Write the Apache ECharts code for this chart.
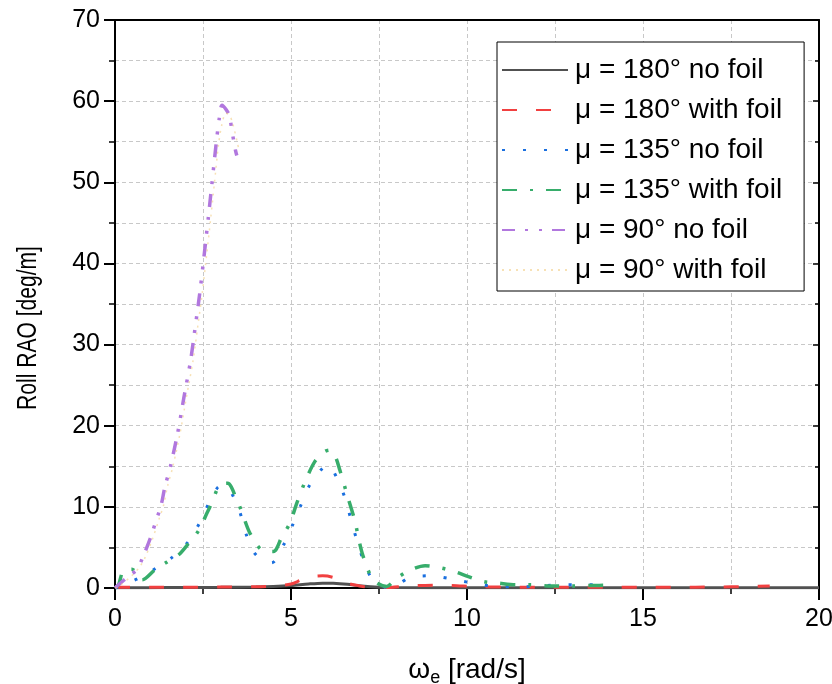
<!DOCTYPE html>
<html>
<head>
<meta charset="utf-8">
<script src="https://cdn.jsdelivr.net/npm/echarts@6/dist/echarts.min.js"></script>
<style>
html,body{margin:0;padding:0;background:#fff;}
#chart{width:832px;height:684px;}
</style>
</head>
<body>
<div id="chart"></div>
<script>
// ---- data ----
const seriesNames = ['μ = 180° no foil','μ = 180° with foil','μ = 135° no foil','μ = 135° with foil','μ = 90° no foil','μ = 90° with foil'];
const yTitle = 'Roll RAO [deg/m]';

const x180no = [0,1,2,3,4,4.5,5,5.5,5.9,6.2,6.6,7,7.5,8,10,12,14,16,18,20];
const y180no = [0.02,0.04,0.06,0.08,0.12,0.18,0.3,0.5,0.6,0.58,0.45,0.25,0.1,0.05,0.03,0.03,0.02,0.02,0.02,0.02];

const x180foil = [0,1,2,3,4,4.5,5,5.3,5.6,5.9,6.2,6.5,6.9,7.3,7.7,8.3,9.3,10.3,11,12,13,14,15,16,17,18,18.6];
const y180foil = [0.1,0.1,0.1,0.12,0.15,0.25,0.5,1.0,1.4,1.5,1.3,0.7,0.3,0.05,0.05,0.25,0.35,0.16,0.12,0.1,0.1,0.1,0.1,0.1,0.12,0.18,0.25];

const x135no = [0,0.3,0.67,1.15,1.63,2.08,2.4,2.66,2.92,3.1,3.31,3.55,3.72,3.95,4.2,4.45,4.8,5.05,5.28,5.52,5.84,6.05,6.32,6.54,6.7,6.87,7.05,7.29,7.55,7.81,8.1,8.38,8.95,9.57,10.16,10.75,11.4,11.98,12.6,13.16,13.78,14.0];
const y135no = [0,0.5,1.2,2.4,3.8,5.7,8.0,10.4,12.4,12.6,11.7,9.3,6.7,4.4,3.4,3.1,5.4,7.8,10.2,12.6,14.5,15.2,13.4,11.0,8.5,5.9,3.5,1.2,0.3,0.05,0.6,1.3,1.5,1.1,0.6,0.2,0.15,0.2,0.4,0.4,0.4,0.35];

const x135foil = [0,0.1,0.25,0.48,0.77,1.15,1.48,1.81,2.09,2.38,2.61,2.76,2.9,3.05,3.2,3.46,3.6,3.84,4.17,4.5,4.74,4.97,5.16,5.4,5.68,5.95,6.1,6.25,6.39,6.58,6.82,6.91,7.05,7.34,7.72,8.0,8.38,8.81,9.23,9.66,10.04,10.46,10.89,11.4,11.8,12.3,13.0,13.5,14.1];
const y135foil = [0,0.4,2.2,2.3,1.0,2.3,3.2,4.1,5.5,7.1,9.2,10.6,12.1,12.8,12.9,10.9,9.4,6.7,4.7,4.5,6.3,8.0,10.4,13.1,15.6,16.8,17.0,16.3,14.5,11.7,8.2,6.3,3.9,1.0,0.2,1.2,2.2,2.75,2.5,2.0,1.4,0.8,0.6,0.4,0.4,0.25,0.25,0.3,0.35];

const x90no = [0,0.1,0.4,0.63,0.8,1.0,1.19,1.31,1.42,1.57,1.78,1.95,2.15,2.28,2.41,2.54,2.65,2.75,2.87,2.96,3.04,3.15,3.25,3.32,3.42,3.46];
const y90no = [0,0.4,1.5,2.3,3.9,6.1,8.6,10.2,12.5,14.9,19.1,23.3,28.1,32.2,36.4,41.3,45.6,49.7,54.6,57.8,59.5,59.0,58.2,56.4,54.0,53.3];

const x90foil = [0,0.17,0.47,0.7,0.87,1.07,1.26,1.38,1.49,1.64,1.85,2.02,2.22,2.35,2.48,2.61,2.72,2.82,2.94,3.03,3.15,3.25,3.34,3.47,3.52];
const y90foil = [0,0.4,1.5,2.6,3.9,6.1,8.6,10.2,12.5,14.9,19.1,23.3,28.1,32.2,36.4,41.3,45.6,49.7,54.6,57.0,58.5,58.3,57.3,55.0,54.0];

const xTicks = [0,5,10,15,20];
const yTicks = [0,10,20,30,40,50,60,70];

// ---- chart ----
const pair = (xs, ys) => xs.map((x, i) => [x, ys[i]]);
const FONT = 'Liberation Sans, Arial, sans-serif';

const styles = [
  {color:'#515151', width:3, type:'solid'},
  {color:'#F14040', width:3, type:[15,19]},
  {color:'#1A6FDF', width:3, type:[3,18]},
  {color:'#37AD6B', width:3.5, type:[15,13,3,13]},
  {color:'#B177DE', width:3.5, type:[13,10,3,11,3,10]},
  {color:'rgba(240,200,120,0.55)', width:1.5, type:[2,5]}
];
const datas = [
  pair(x180no,y180no), pair(x180foil,y180foil), pair(x135no,y135no),
  pair(x135foil,y135foil), pair(x90no,y90no), pair(x90foil,y90foil)
];

const chart = echarts.init(document.getElementById('chart'), null, {renderer:'canvas'});
const gridLine = {show:true, lineStyle:{color:'#c8c8c8', width:1, type:[4,3]}};

const series = seriesNames.map((name, i) => ({
  name: name,
  type: 'line',
  data: datas[i],
  showSymbol: false,
  symbol: 'none',
  smooth: 0.3,
  z: 3 + i,
  lineStyle: {color: styles[i].color, width: styles[i].width, type: styles[i].type},
  itemStyle: {color: styles[i].color},
  xAxisIndex: 0, yAxisIndex: 0,
  animation: false
}));

chart.setOption({
  animation: false,
  backgroundColor: '#fff',
  grid: {left:115, right:13, top:20, bottom:96, containLabel:false, outerBoundsMode:'none'},
  graphic: [{
    type: 'text',
    x: 29, y: 328,
    rotation: Math.PI / 2,
    scaleX: 0.78,
    style: {text: yTitle, fontFamily: FONT, fontSize: 27, fill: '#000', align: 'center', verticalAlign: 'middle'}
  }],
  legend: {
    orient: 'vertical',
    left: 497, top: 42,
    data: seriesNames,
    itemWidth: 66, itemHeight: 14,
    itemGap: 10,
    itemStyle: {opacity: 0},
    padding: [13, 22, 6, 4],
    borderColor: '#000', borderWidth: 1,
    backgroundColor: '#fff',
    textStyle: {fontFamily: FONT, fontSize: 28, color:'#000', lineHeight: 30, padding:[0,0,0,2]}
  },
  xAxis: [{
    type:'value', min:0, max:20, interval:5,
    name:'{a|ω}{s|e}{a| [rad/s]}',
    nameLocation:'middle', nameGap:65,
    nameTextStyle:{rich:{a:{fontFamily:FONT, fontSize:28, color:'#000'}, s:{fontFamily:FONT, fontSize:18, color:'#000', verticalAlign:'bottom', padding:[16,0,0,0]}}},
    axisLine:{show:true, onZero:false, lineStyle:{color:'#000', width:2}},
    axisTick:{show:true, length:12, lineStyle:{color:'#000', width:2}},
    minorTick:{show:true, splitNumber:2, length:6, lineStyle:{color:'#000', width:1.5}},
    splitLine: gridLine,
    minorSplitLine: gridLine,
    axisLabel:{fontFamily:FONT, fontSize:25, color:'#000', margin:19,
      customValues: xTicks}
  },{
    type:'value', min:0, max:20, interval:5, position:'top',
    axisLine:{show:true, onZero:false, lineStyle:{color:'#000', width:2}},
    axisTick:{show:false},
    minorTick:{show:false},
    axisLabel:{show:false}, splitLine:{show:false}
  }],
  yAxis: [{
    type:'value', min:0, max:70, interval:10,
    axisLine:{show:true, onZero:false, lineStyle:{color:'#000', width:2}},
    axisTick:{show:true, length:11, lineStyle:{color:'#000', width:2}},
    minorTick:{show:true, splitNumber:2, length:6, lineStyle:{color:'#000', width:1.5}},
    splitLine: gridLine,
    minorSplitLine: gridLine,
    axisLabel:{fontFamily:FONT, fontSize:25, color:'#000', margin:15, customValues: yTicks}
  },{
    type:'value', min:0, max:70, interval:10, position:'right',
    axisLine:{show:true, onZero:false, lineStyle:{color:'#000', width:2}},
    axisTick:{show:true, inside:true, length:6, lineStyle:{color:'#000', width:1.5}},
    minorTick:{show:true, splitNumber:2, length:4, lineStyle:{color:'#000', width:1.5}},
    axisLabel:{show:false}, splitLine:{show:false}
  }],
  series: series
});
</script>
</body>
</html>
